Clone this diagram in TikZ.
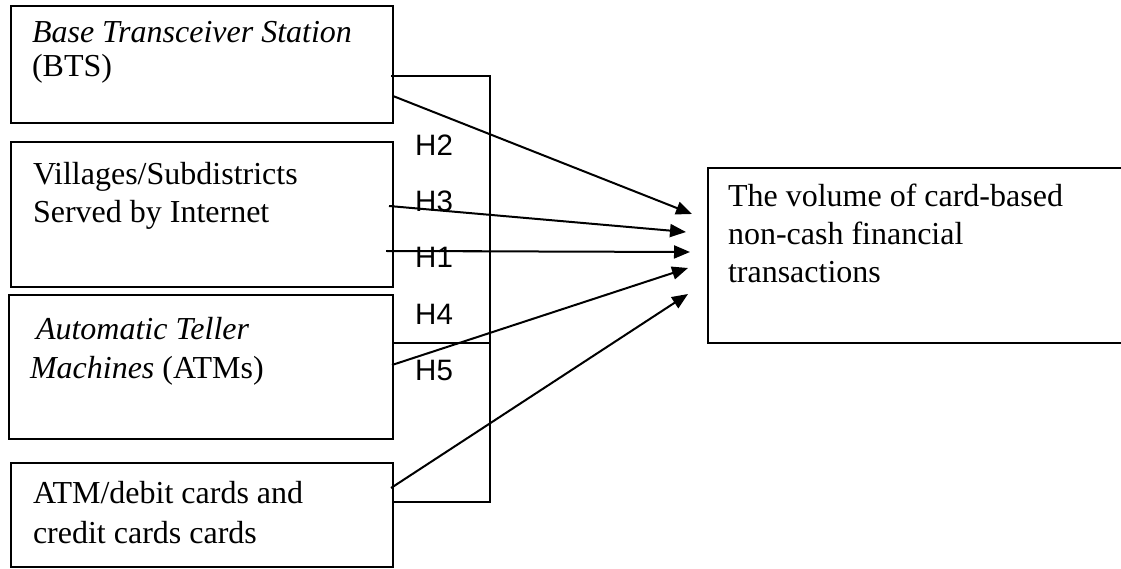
\documentclass[tikz,border=0pt]{standalone}
\usepackage{fontspec}
\setmainfont{Liberation Serif}
\newfontfamily\hfont{Liberation Sans}
\usetikzlibrary{arrows.meta}
\tikzset{
  box/.style={draw, line width=2pt, rectangle, inner sep=0pt, outer sep=0pt, anchor=north west},
  txt/.style={anchor=base west, inner sep=0pt, outer sep=0pt},
  hlab/.style={anchor=base west, inner sep=0pt, font=\hfont\fontsize{29.5}{34}\selectfont},
  arr/.style={line width=2pt, -{Triangle[length=16pt,width=13pt]}},
  brk/.style={line width=2pt}
}
\newcommand{\serifsize}[1]{\fontsize{32}{#1}\selectfont}
\begin{document}
\begin{tikzpicture}[x=1pt,y=-1pt]
\useasboundingbox (0,0) rectangle (1121,569);
% boxes
\node[box, minimum width=382pt, minimum height=117pt] (bts) at (11,6) {};
\node[box, minimum width=382pt, minimum height=145pt] (vil) at (11,142) {};
\node[box, minimum width=384pt, minimum height=144pt] (atm) at (9,295) {};
\node[box, minimum width=382pt, minimum height=104pt] (card) at (11,463) {};
\node[box, minimum width=417pt, minimum height=175pt] (vol) at (708,168) {};
% texts
\node[txt] (tbts) at (32,43) {\serifsize{34}\vtop{\hbox{\textit{Base Transceiver Station}}\hbox{(BTS)}}};
\node[txt] (tvil) at (33,185) {\serifsize{38}\vtop{\hbox{Villages/Subdistricts}\hbox{Served by Internet}}};
\node[txt] (tatm) at (30,339) {\serifsize{39}\vtop{\hbox{\hspace*{6pt}\textit{Automatic Teller}}\hbox{\textit{Machines} (ATMs)}}};
\node[txt] (tcard) at (33,503) {\serifsize{40}\vtop{\hbox{ATM/debit cards and}\hbox{credit cards cards}}};
\node[txt] (tvol) at (728,207) {\serifsize{38}\vtop{\hbox{The volume of card-based}\hbox{non-cash financial}\hbox{transactions}}};
% bracket
\coordinate (brT) at (490,76);
\coordinate (brB) at (490,502);
\coordinate (brM) at (482,251);
\draw[brk] ([xshift=-2pt,yshift=-11.5pt]bts.east) -- (brT) -- (brB) -- ([yshift=13pt]card.east);
\draw[brk] ([xshift=-1pt,yshift=24pt]atm.east) -- (atm.east |- 0,343) -| (brT |- 0,343);
\draw[brk] ([xshift=-7pt,yshift=-36.5pt]vil.east) -- (brM);
% labels
\node[hlab] (h2) at (415,156) {H2};
\node[hlab] (h3) at (415,212) {H3};
\node[hlab] (h1) at (415,268) {H1};
\node[hlab] (h4) at (415,324) {H4};
\node[hlab] (h5) at (415,380) {H5};
% arrows
\draw[arr] ([yshift=-31.5pt]bts.east) -- ([xshift=-16pt,yshift=41.5pt]vol.west);
\draw[arr] ([xshift=-4pt,yshift=8.5pt]vil.east) -- ([xshift=-22pt,yshift=23.5pt]vol.west);
\draw[arr] ([xshift=-6pt,yshift=-36.5pt]vil.east) -- ([xshift=-18pt,yshift=3.5pt]vol.west);
\draw[arr] ([xshift=-1pt,yshift=2pt]atm.east) -- ([xshift=-20pt,yshift=-12.5pt]vol.west);
\draw[arr] ([xshift=-2pt,yshift=27pt]card.east) -- ([xshift=-20pt,yshift=-38.5pt]vol.west);
\end{tikzpicture}
\end{document}
